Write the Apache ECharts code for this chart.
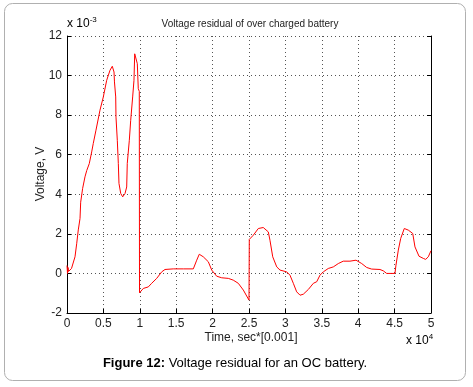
<!DOCTYPE html>
<html><head><meta charset="utf-8">
<script src="https://cdn.jsdelivr.net/npm/echarts@6/dist/echarts.min.js"></script>
<style>html,body{margin:0;padding:0;background:#fff}#c{width:473px;height:387px}</style>
</head><body><div id="c"></div>
<script>
// time in sec*[0.001]
const times = [0,70,140,210,340,480,620,870,1100,1330,
1550,1790,1880,2150,2470,2710,3060,3390,3610,3980,
4530,4990,5450,5910,6220,6460,6520,6690,6730,6910,
7050,7140,7380,7650,7970,8200,8280,8560,8750,9020,
9200,9300,9570,9660,9790,9930,9960,10480,11170,11630,
12320,13010,13460,14600,15980,17350,17820,18170,18720,19410,
19880,20560,21250,22160,22840,23530,24220,25000,25040,25590,
26280,26960,27650,27880,28260,28810,29260,29490,30180,30630,
31090,31550,32010,32460,33150,33840,34300,34750,35210,35890,
36580,37270,37950,38870,39700,40480,41170,41850,42990,43450,
43910,45050,45190,45510,45840,46330,46570,46880,47490,47800,
48350,48940,49270,49630,50000];
// voltage residual in units of 1e-3 V
const residual = [0.4,0.0,0.3,0.1,0.2,0.15,0.25,0.33,0.84,1.5,
2.2,2.78,3.6,4.3,4.88,5.2,5.55,6.14,6.57,7.24,
8.25,8.92,9.76,10.27,10.47,10.18,9.68,8.92,7.9,6.73,
5.56,4.55,4.04,3.87,4.04,4.37,5.56,6.73,7.74,8.92,
9.76,11.1,11.0,10.6,9.34,9.2,-0.98,-0.76,-0.68,-0.5,
-0.25,0.08,0.2,0.23,0.23,0.23,0.67,0.97,0.84,0.59,
0.17,-0.14,-0.22,-0.25,-0.34,-0.5,-0.84,-1.35,1.72,1.93,
2.27,2.32,2.1,1.68,0.84,0.33,0.17,0.13,0.08,-0.09,
-0.5,-0.93,-1.1,-1.05,-0.81,-0.5,-0.42,-0.09,0.08,0.25,
0.33,0.5,0.62,0.62,0.67,0.5,0.3,0.22,0.2,0.13,
0,0,0.42,1.18,1.77,2.27,2.24,2.19,2.02,1.34,
0.87,0.76,0.71,0.84,1.15];
const xTicks = {min:0, max:50000, interval:5000};
const yTicks = {min:-2, max:12, interval:2};

const FONT = '"Liberation Sans", Arial, sans-serif';
const chart = echarts.init(document.getElementById('c'), null, {renderer:'canvas'});
const data = times.map((t,i)=>[t, residual[i]]);
const gridLine = {show:true, lineStyle:{color:'#555', width:1, type:[1,3]}};
const tick = {show:true, inside:true, length:4, lineStyle:{color:'#000'}};
chart.setOption({
  animation:false,
  backgroundColor:'#fff',
  grid:{left:67, top:36, width:364, height:277},
  xAxis:{type:'value', min:xTicks.min, max:xTicks.max, interval:xTicks.interval,
    axisLine:{show:true, onZero:false, lineStyle:{color:'#000', width:1}},
    axisTick:tick, splitLine:gridLine,
    axisLabel:{color:'#222', fontSize:12, fontFamily:FONT, margin:5, formatter:v=>String(v/10000)}},
  yAxis:[{type:'value', min:yTicks.min, max:yTicks.max, interval:yTicks.interval,
    axisLine:{show:true, lineStyle:{color:'#000', width:1}},
    axisTick:tick, splitLine:gridLine,
    axisLabel:{color:'#222', fontSize:12, fontFamily:FONT, margin:5}},
   {type:'value', position:'right', min:yTicks.min, max:yTicks.max, interval:yTicks.interval,
    axisLine:{show:true, lineStyle:{color:'#000', width:1}},
    axisTick:tick, splitLine:{show:false}, axisLabel:{show:false}}],
  series:[{type:'line', data:data, showSymbol:false, symbol:'none',
    lineStyle:{color:'#ff0000', width:1}, z:5}],
  graphic:[
    {type:'rect', shape:{x:4.5, y:3.5, width:461, height:377, r:8}, style:{fill:'none', stroke:'#b0b0b0', lineWidth:1}, z:-10},
    {type:'text', x:250, y:24, style:{text:'Voltage residual of over charged battery', font:'10px '+FONT, fill:'#222', textAlign:'center', textVerticalAlign:'middle'}},
    {type:'text', x:67, y:23, style:{text:'{a|x 10}{s|-3}', textVerticalAlign:'middle', rich:{a:{fontSize:12, fontFamily:FONT, color:'#222', verticalAlign:'bottom', lineHeight:14}, s:{fontSize:8, fontFamily:FONT, color:'#222', verticalAlign:'top', lineHeight:14}}}},
    {type:'text', x:406, y:340, style:{text:'{a|x 10}{s|4}', textVerticalAlign:'middle', rich:{a:{fontSize:12, fontFamily:FONT, color:'#222', verticalAlign:'bottom', lineHeight:14}, s:{fontSize:8, fontFamily:FONT, color:'#222', verticalAlign:'top', lineHeight:14}}}},
    {type:'text', x:41, y:174, rotation:Math.PI/2, style:{text:'Voltage, V', font:'12px '+FONT, fill:'#222', textAlign:'center', textVerticalAlign:'middle'}},
    {type:'text', x:251, y:338, style:{text:'Time, sec*[0.001]', font:'12px '+FONT, fill:'#222', textAlign:'center', textVerticalAlign:'middle'}},
    {type:'text', x:235, y:363, style:{text:'{b|Figure 12:}{n| Voltage residual for an OC battery.}', textAlign:'center', textVerticalAlign:'middle', rich:{b:{fontSize:13, fontWeight:'bold', fontFamily:FONT, color:'#000'}, n:{fontSize:13, fontFamily:FONT, color:'#000'}}}}
  ]
});
</script></body></html>
